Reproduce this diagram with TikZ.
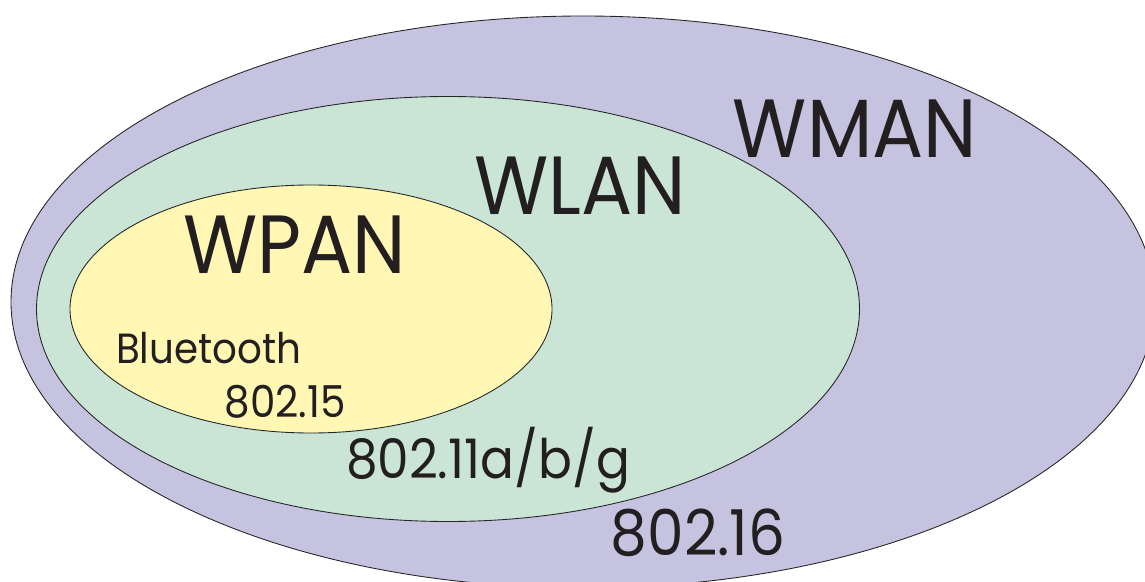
\documentclass[tikz,border=0pt]{standalone}
\usepackage{fontspec}
\setmainfont{Poppins}[FakeStretch=0.92]
\usepackage{tikz}

\definecolor{wmanfill}{HTML}{C6C3E1}
\definecolor{wlanfill}{HTML}{CAE5D5}
\definecolor{wpanfill}{HTML}{FFF7B3}
\definecolor{ink}{HTML}{231F20}

\begin{document}
\begin{tikzpicture}[
  area/.style={draw=black!85, line width=0.5pt},
  netname/.style={anchor=base, inner sep=0pt, text=ink, font=\fontsize{47}{52}\selectfont},
  stdname/.style={anchor=base, inner sep=0pt, text=ink}
]
\clip (0, 0) rectangle (22.9, -11.64);

% nested coverage areas
\filldraw[area, fill=wmanfill] (11.66, -6.04) ellipse (11.44 and 5.72);
\filldraw[area, fill=wlanfill] (8.96, -6.18) ellipse (8.23 and 4.25);
\filldraw[area, fill=wpanfill] (6.22, -6.18) ellipse (4.82 and 2.48);

\node[netname] (wman) at (17.10, -3.16) {WMAN};
\node[netname] (wlan) at (11.60, -4.30) {WLAN};
\node[netname] (wpan) at (5.90, -5.46) {WPAN};

\node[stdname, font=\fontsize{24}{28}\selectfont] (bt) at (4.17, -7.26) {Bluetooth};
\node[stdname, font=\fontsize{25}{29}\selectfont] (std15) at (5.70, -8.34) {802.15};
\node[stdname, font=\fontsize{31}{36}\selectfont] (std11) at (9.76, -9.56) {802.11a/b/g};
\node[stdname, font=\fontsize{36}{41}\selectfont] (std16) at (13.96, -11.10) {802.16};
\end{tikzpicture}
\end{document}
